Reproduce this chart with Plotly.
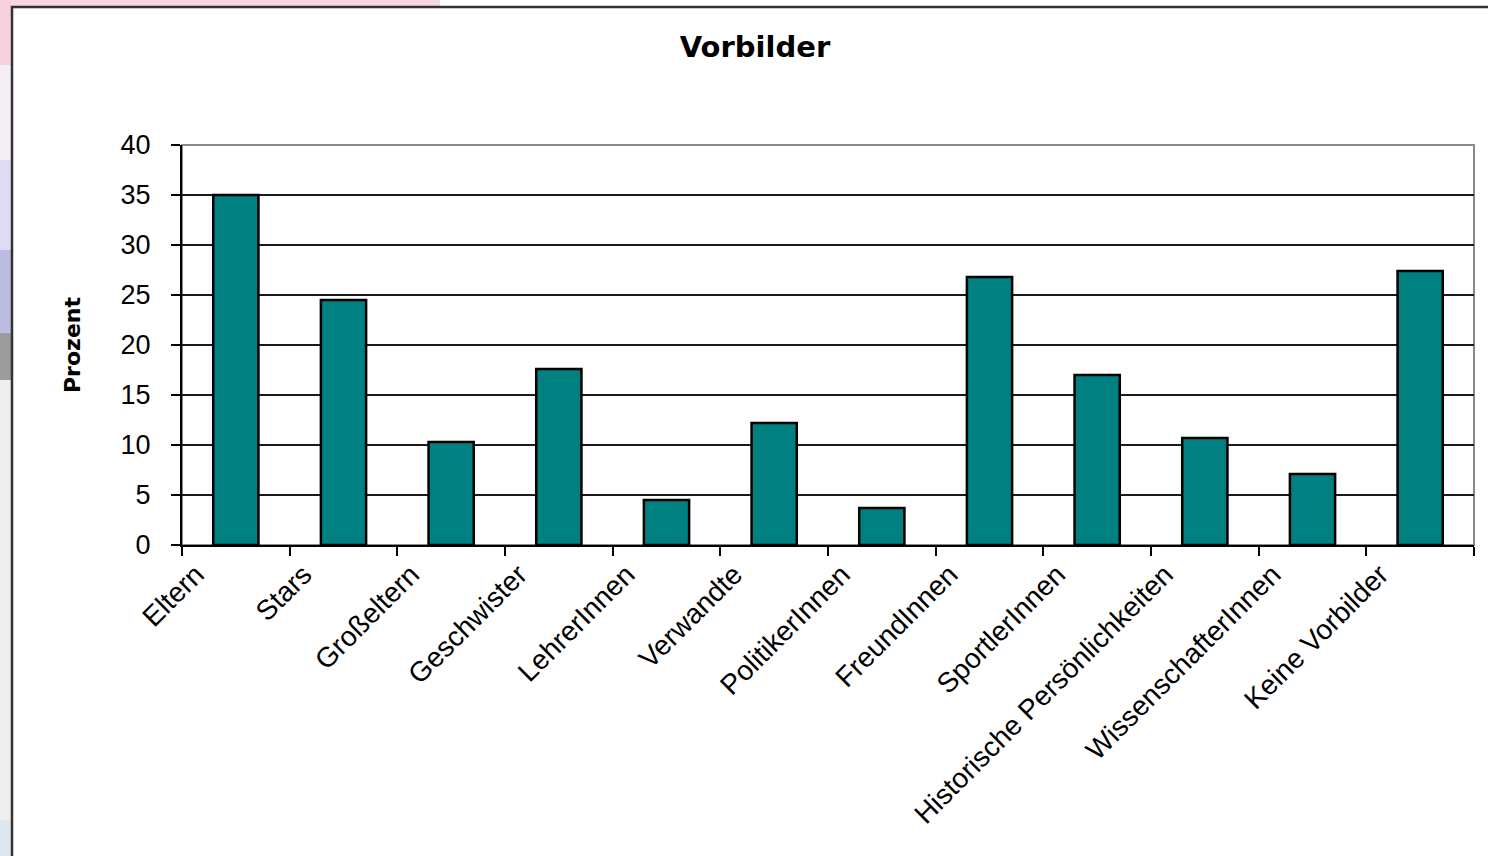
import plotly.graph_objects as go

categories = ["Eltern", "Stars", "Großeltern", "Geschwister", "LehrerInnen", "Verwandte",
              "PolitikerInnen", "FreundInnen", "SportlerInnen", "Historische Persönlichkeiten",
              "WissenschafterInnen", "Keine Vorbilder"]
values = [35.0, 24.5, 10.3, 17.6, 4.5, 12.2, 3.7, 26.8, 17.0, 10.7, 7.1, 27.4]
y_ticks = [0, 5, 10, 15, 20, 25, 30, 35, 40]

W, H = 1488, 856
L, R, T, B = 182, 14, 145, 311
PW, PH = W - L - R, H - T - B


def px2x(px):
    return (px - L) / PW


def px2y(py):
    return (H - B - py) / PH


fig = go.Figure(go.Bar(
    x=categories, y=values,
    marker=dict(color="#008080", line=dict(color="#000000", width=2.5)),
    width=0.42,
))

shapes = []
# background strips outside chart frame
strips = [
    (0, 0, 11, 65, "#f6d2de"),
    (0, 65, 11, 160, "#f3eff4"),
    (0, 160, 11, 250, "#dedcf3"),
    (0, 250, 11, 333, "#bcbbe2"),
    (0, 333, 11, 380, "#9c9c9e"),
    (0, 380, 11, 820, "#eeeeee"),
    (0, 820, 11, 856, "#dfe8ee"),
    (11, 0, 440, 6, "#f8d8e4"),
]
for x0, y0, x1, y1, c in strips:
    shapes.append(dict(type="rect", xref="paper", yref="paper",
                       x0=px2x(x0), x1=px2x(x1), y0=px2y(y0), y1=px2y(y1),
                       fillcolor=c, line=dict(width=0), layer="below"))
# chart frame
shapes.append(dict(type="rect", xref="paper", yref="paper",
                   x0=px2x(12), x1=px2x(1500), y0=px2y(7), y1=px2y(870),
                   fillcolor="#ffffff", line=dict(color="#333333", width=2.5), layer="below"))
# plot area border (gray top/right)
shapes.append(dict(type="rect", xref="paper", yref="paper",
                   x0=0, x1=1, y0=0, y1=1,
                   fillcolor="rgba(0,0,0,0)", line=dict(color="#8a8a8a", width=2), layer="below"))

fig.update_layout(
    width=W, height=H,
    margin=dict(l=L, r=R, t=T, b=B, autoexpand=False),
    paper_bgcolor="#ffffff",
    plot_bgcolor="rgba(0,0,0,0)",
    showlegend=False,
    shapes=shapes,
    title=dict(text="Vorbilder", x=755 / W, xanchor="center", xref="container",
               y=1 - 47 / H, yanchor="middle", yref="container",
               font=dict(family="DejaVu Sans", size=29, color="#000000", weight="bold")),
    font=dict(family="Liberation Sans, Arial, sans-serif", color="#000000"),
    bargap=0.58,
)

fig.update_xaxes(
    type="category",
    tickangle=-45,
    tickfont=dict(family="Liberation Sans, Arial, sans-serif", size=28, color="#000000"),
    ticks="outside", tickson="boundaries", ticklen=9, tickwidth=2, tickcolor="#000000",
    showline=True, linecolor="#000000", linewidth=2,
    showgrid=False, zeroline=False,
    ticklabelshift=-40,
)

fig.update_yaxes(
    range=[0, 40],
    tickvals=y_ticks,
    tickfont=dict(family="Liberation Sans, Arial, sans-serif", size=27, color="#000000"),
    ticks="outside", ticklen=9, tickwidth=2, tickcolor="#000000",
    ticklabelstandoff=15,
    showline=True, linecolor="#000000", linewidth=2,
    showgrid=True, gridcolor="#1a1a1a", gridwidth=1.5,
    zeroline=False,
    title=dict(text="Prozent", standoff=34,
               font=dict(family="DejaVu Sans", size=22, color="#000000", weight="bold")),
)

fig.write_html("out.html", config={"displayModeBar": False},
               post_script="document.body.style.margin='0';document.body.style.overflow='hidden';")
